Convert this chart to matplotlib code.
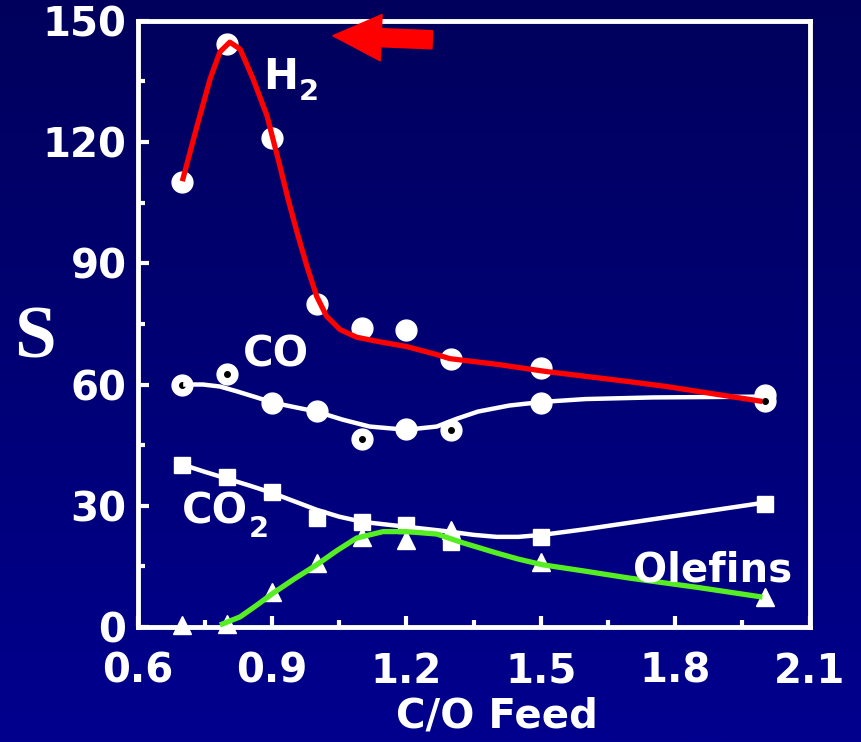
import numpy as np
import matplotlib.pyplot as plt
from matplotlib.colors import LinearSegmentedColormap

# measured points
co_feed = [0.7, 0.8, 0.9, 1.0, 1.1, 1.2, 1.3, 1.5, 2.0]
s_h2 = [110, 144.3, 121, 80, 74, 73.4, 66.2, 64, 57.5]
s_co = [60, 62.5, 55.5, 53.5, 46.4, 49, 48.8, 55.5, 56]
s_co2 = [40.2, 37, 33.3, 27, 26, 25.3, 21, 22.3, 30.5]
s_olef = [0.5, 0.8, 8.7, 15.9, 22.3, 21.6, 24, 16, 7.4]

# hand-drawn trend curves (knots)
h2_cx = [0.70, 0.733, 0.762, 0.784, 0.806, 0.829, 0.858, 0.889, 0.918, 0.936,
         0.956, 0.978, 1.0, 1.022, 1.052, 1.089, 1.134, 1.2, 1.268, 1.297,
         1.402, 1.513, 1.698, 1.781, 1.995]
h2_cy = [110.3, 124, 135.6, 142.3, 144.7, 143, 135.6, 126.5, 114, 105.9,
         97.7, 89.3, 81.8, 76.9, 73.6, 71.7, 70.7, 69.4, 67.4, 66.4,
         65, 63.2, 60.7, 59.5, 55.8]
co_cx = [0.702, 0.746, 0.784, 0.822, 0.866, 0.903, 0.955, 1.0, 1.058, 1.118,
         1.2, 1.268, 1.312, 1.36, 1.43, 1.504, 1.6, 1.75, 1.995]
co_cy = [60, 60, 59.5, 58.3, 56.8, 55.5, 54.3, 53.3, 51.3, 49.6,
         48.8, 49.6, 51.5, 53.3, 54.8, 55.7, 56.4, 56.8, 57]
co2_cx = [0.70, 0.75, 0.8, 0.85, 0.9, 0.95, 1.0, 1.05, 1.103, 1.2, 1.297,
          1.35, 1.402, 1.45, 1.504, 1.6, 1.698, 1.85, 1.995]
co2_cy = [40.2, 38.4, 36.7, 35, 33.2, 31.1, 29, 27.3, 26, 24.8, 23.6,
          22.8, 22.3, 22.3, 22.8, 24.2, 25.8, 28.3, 30.7]
ol_cx = [0.784, 0.829, 0.865, 0.903, 0.95, 1.0, 1.045, 1.089, 1.148, 1.2,
         1.268, 1.327, 1.402, 1.45, 1.504, 1.6, 1.698, 1.85, 1.995]
ol_cy = [0.5, 2.5, 5.3, 8.4, 11.9, 15.4, 18.9, 22, 23.6, 23.6,
         23, 20.8, 18.3, 16.8, 15.4, 13.8, 12.1, 9.8, 7.4]

co_dotted = [0, 1, 4, 6, 8]

fig = plt.figure(figsize=(8.61, 7.42), dpi=100)

# background gradient
bg = fig.add_axes([0, 0, 1, 1])
bg.axis('off')
cmap = LinearSegmentedColormap.from_list('bg', ['#00005c', '#00008e'])
bg.imshow(np.linspace(0, 1, 256).reshape(-1, 1), aspect='auto', cmap=cmap,
          extent=[0, 1, 0, 1])
bg.set_xlim(0, 1)
bg.set_ylim(0, 1)

ax = fig.add_axes([0.1597, 0.155, 0.7805, 0.817])
ax.set_facecolor('none')
ax.set_xlim(0.6, 2.1)
ax.set_ylim(0, 150)

for sp in ax.spines.values():
    sp.set_color('white')
    sp.set_linewidth(3.5)

ax.set_xticks([0.6, 0.9, 1.2, 1.5, 1.8, 2.1])
ax.set_xticks([0.75, 1.05, 1.35, 1.65, 1.95], minor=True)
ax.set_yticks([0, 30, 60, 90, 120, 150])
ax.set_yticks([15, 45, 75, 105, 135], minor=True)
ax.set_xticklabels(['0.6', '0.9', '1.2', '1.5', '1.8', '2.1'])
ax.tick_params(which='both', direction='in', color='white', width=3,
               labelcolor='white', labelsize=29)
ax.tick_params(which='major', length=8)
ax.tick_params(which='minor', length=5)
ax.tick_params(axis='x', pad=18)
ax.tick_params(axis='y', pad=8)
for lab in ax.get_xticklabels() + ax.get_yticklabels():
    lab.set_fontweight('bold')

ax.set_xlabel('C/O Feed', color='white', fontsize=29, fontweight='bold')
ax.xaxis.set_label_coords(0.535, -0.115)
fig.text(0.041, 0.543, 'S', color='white', fontsize=54, family='Liberation Serif',
         fontweight='bold', ha='center', va='center')

# markers
ax.plot(co_feed, s_h2, 'o', ms=15, color='white', zorder=3, clip_on=False)
ax.plot(co_feed, s_co, 'o', ms=15, color='white', zorder=3, clip_on=False)
ax.plot([co_feed[i] for i in co_dotted], [s_co[i] for i in co_dotted], 'o',
        ms=4, color='black', zorder=4)
ax.plot(co_feed, s_co2, 's', ms=12, color='white', zorder=3, clip_on=False)
ax.plot(co_feed, s_olef, '^', ms=13, color='white', zorder=3, clip_on=False)

# curves
kw = dict(solid_capstyle='butt', solid_joinstyle='round')
ax.plot(co_cx, co_cy, color='white', lw=3.2, zorder=5, **kw)
ax.plot(co2_cx, co2_cy, color='white', lw=3.2, zorder=5, **kw)
ax.plot(ol_cx, ol_cy, color='#55ee22', lw=3.8, zorder=5, clip_on=False, **kw)
ax.plot(h2_cx, h2_cy, color='red', lw=3.8, zorder=6, **kw)

# series labels
ax.text(0.88, 136, 'H', color='white', fontsize=30, fontweight='bold',
        ha='left', va='center')
ax.text(0.96, 132.3, '2', color='white', fontsize=21, fontweight='bold',
        ha='left', va='center')
ax.text(0.835, 67.5, 'CO', color='white', fontsize=30, fontweight='bold',
        ha='left', va='center')
ax.text(0.70, 28.5, 'CO', color='white', fontsize=30, fontweight='bold',
        ha='left', va='center')
ax.text(0.848, 24.3, '2', color='white', fontsize=21, fontweight='bold',
        ha='left', va='center')
ax.text(1.705, 14, 'Olefins', color='white', fontsize=29, fontweight='bold',
        ha='left', va='center', zorder=7)

# red arrow
ax.annotate('', xy=(1.036, 146.3), xytext=(1.258, 145.3),
            arrowprops=dict(arrowstyle='simple,head_length=1.2,head_width=1.15,tail_width=0.45',
                            mutation_scale=29, color='red', shrinkA=0, shrinkB=0),
            annotation_clip=False, zorder=8)

fig.savefig('out.png', dpi=100, facecolor=fig.get_facecolor())
